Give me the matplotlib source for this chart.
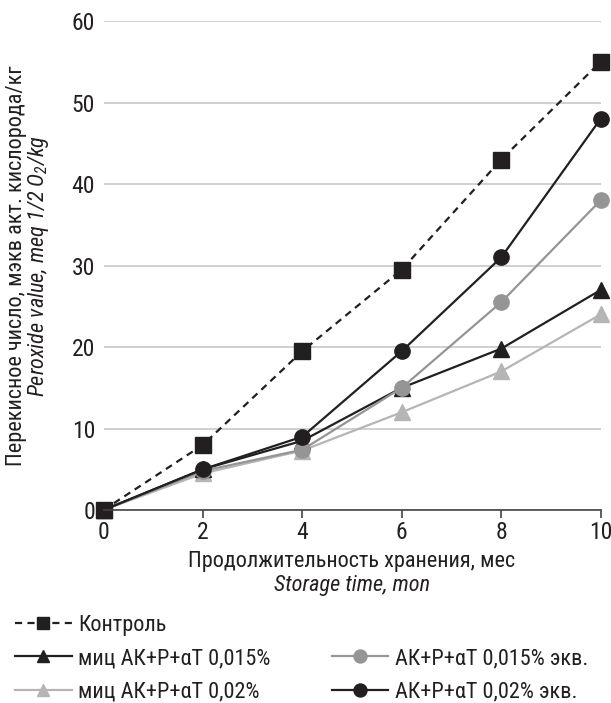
import matplotlib
matplotlib.use('Agg')
import matplotlib.pyplot as plt
from matplotlib.lines import Line2D
from matplotlib import font_manager

# condensed sans to match the original typeface; fall back if missing
names = {f.name for f in font_manager.fontManager.ttflist}
FONT = 'Liberation Sans'
for cand in ['Roboto Condensed', 'PT Sans Narrow', 'Archivo Narrow', 'Liberation Sans Narrow']:
    if cand in names:
        FONT = cand
        break
plt.rcParams['font.family'] = [FONT, 'DejaVu Sans']
plt.rcParams['mathtext.fontset'] = 'custom'
plt.rcParams['mathtext.rm'] = FONT + ':italic'
plt.rcParams['mathtext.it'] = FONT + ':italic'

months = [0, 2, 4, 6, 8, 10]
control = [0, 8, 19.5, 29.5, 43, 55]
mic_015 = [0, 5, 8.5, 15, 19.8, 27]
mic_02 = [0, 4.5, 7.3, 12, 17, 24]
ak_015 = [0, 4.8, 7.4, 15, 25.5, 38]
ak_02 = [0, 5, 9, 19.5, 31, 48]

labels = ['Контроль', 'миц АК+Р+αT 0,015%', 'миц АК+Р+αT 0,02%',
          'АК+Р+αT 0,015% экв.', 'АК+Р+αT 0,02% экв.']

BLACK = '#231f20'
GRAY = '#959595'
LIGHT = '#b5b5b5'

fig = plt.figure(figsize=(6.11, 7.03), dpi=100)
ax_rect = [0.1694, 0.2745, 0.8136, 0.6955]
ax = fig.add_axes(ax_rect)
xc = ax_rect[0] + ax_rect[2] / 2
yc = ax_rect[1] + ax_rect[3] / 2

lw = 1.6
h_mic02, = ax.plot(months, mic_02, color=LIGHT, lw=lw, marker='^', ms=11)
h_mic015, = ax.plot(months, mic_015, color=BLACK, lw=lw, marker='^', ms=11)
h_ak015, = ax.plot(months, ak_015, color=GRAY, lw=lw, marker='o', ms=11)
h_ak02, = ax.plot(months, ak_02, color=BLACK, lw=lw, marker='o', ms=11)
h_ctrl, = ax.plot(months, control, color=BLACK, lw=lw, ls=(0, (3.2, 2.4)), marker='s', ms=11)
for h in (h_mic02, h_mic015, h_ak015, h_ak02, h_ctrl):
    h.set_clip_on(False)

ax.set_xlim(0, 10)
ax.set_ylim(0, 60)
ax.set_xticks(months)
ax.set_yticks(range(0, 61, 10))
ax.yaxis.grid(True, color='#c8c8c8', lw=1.2)
ax.set_axisbelow(True)
for s in ('left', 'right', 'top'):
    ax.spines[s].set_visible(False)
ax.spines['bottom'].set_color('#444444')
ax.spines['bottom'].set_linewidth(1.2)
ax.tick_params(axis='x', direction='out', length=6, width=1.2, color='#444444',
               labelsize=17, pad=2, labelcolor=BLACK)
ax.tick_params(axis='y', length=0, labelsize=17, pad=6, labelcolor=BLACK)

fs = 16
fig.text(xc, 1 - 561 / 703, 'Продолжительность хранения, мес', ha='center', va='center',
         fontsize=fs, color=BLACK)
fig.text(xc, 1 - 585 / 703, 'Storage time, mon', ha='center', va='center',
         fontsize=fs, style='italic', color=BLACK)
fig.text(17 / 611, yc, 'Перекисное число, мэкв акт. кислорода/кг', rotation=90,
         ha='center', va='center', fontsize=fs, color=BLACK)
fig.text(39 / 611, yc, 'Peroxide value, meq 1/2 O$_2$/kg', rotation=90,
         ha='center', va='center', fontsize=fs, style='italic', color=BLACK)

blank = Line2D([], [], color='none')
leg = fig.legend([h_ctrl, h_mic015, h_mic02, blank, h_ak015, h_ak02],
                 [labels[0], labels[1], labels[2], '', labels[3], labels[4]],
                 ncol=2, loc='upper left', bbox_to_anchor=(15 / 611, 1 - 615 / 703),
                 frameon=False, fontsize=fs, handlelength=2.55, handletextpad=0.3,
                 columnspacing=2.75, labelspacing=0.55, markerscale=0.85,
                 borderpad=0, borderaxespad=0)
for t in leg.get_texts():
    t.set_color(BLACK)

fig.savefig('out.png', dpi=100)
